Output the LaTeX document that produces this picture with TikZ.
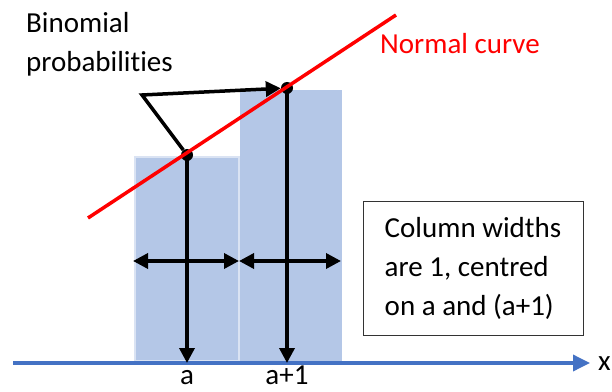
\documentclass[tikz,border=0pt]{standalone}
\usepackage{fontspec}
\setmainfont{Carlito}[Ligatures=NoCommon]
\definecolor{axisblue}{RGB}{68,114,196}
\definecolor{columnblue}{RGB}{180,199,231}
\definecolor{columnedge}{RGB}{218,227,243}
\usetikzlibrary{arrows.meta,positioning}

\begin{document}
\begin{tikzpicture}[
      x=1pt, y=1pt,
      font=\fontsize{29}{39}\selectfont,
      column/.style={fill=columnblue, anchor=south west, inner sep=0pt},
      dotmark/.style={circle, fill=black, inner sep=0pt, minimum size=12pt},
      pointer/.style={-{Triangle[length=15pt,width=15pt]}, line width=3.5pt},
      dimarrow/.style={{Triangle[length=15pt,width=15pt]}-{Triangle[length=15pt,width=15pt]}, line width=3.5pt},
      axisline/.style={-{Triangle[length=17pt,width=16pt]}, line width=3.5pt, axisblue}
    ]
    \useasboundingbox (0,0) rectangle (612,391);

    % columns
    \node[column, draw=columnedge, line width=2pt, minimum width=104pt, minimum height=204pt]
      (colA) at (134,29) {};
    \node[column, minimum width=102pt, minimum height=273pt] (colB) at (240,28) {};

    % x axis
    \coordinate (x0) at (13,28);
    \coordinate (x1) at (590,28);
    \draw[axisline] (x0) -- (x1);
    \node[anchor=base west, inner sep=0pt] (xlab) at (598,21) {x};
    \coordinate (ta) at (187,28);
    \coordinate (tb) at (287,28);
    \node[anchor=base, inner sep=0pt] (la) at (187,7) {a};
    \node[anchor=base, inner sep=0pt] (lb) at (287,7) {a+1};

    % binomial points
    \node[dotmark] (pa) at (187,236) {};
    \node[dotmark] (pb) at (287,303) {};
    \draw[pointer] (pa.center) -- (ta);
    \draw[pointer] (pb.center) -- (tb);

    % column widths
    \coordinate (wa) at (133,130);
    \coordinate (wm) at (239,130);
    \coordinate (wb) at (341,130);
    \draw[dimarrow] (wa) -- (wm);
    \draw[dimarrow] (wm) -- (wb);

    % label and its pointers
    \node[anchor=north west, inner sep=0pt, align=left] (binlab) at (26,379)
      {Binomial\\probabilities};
    \coordinate (corner) at (142,296);
    \draw[pointer, line join=miter] (pa) -- (corner) -- (pb);

    % normal curve
    \coordinate (n0) at (88,173);
    \coordinate (n1) at (396,376);
    \draw[red, line width=3.5pt] (n0) -- (n1);
    \node[anchor=base west, inner sep=0pt, text=red] (normlab) at (380,337) {Normal curve};

    \node[draw=black!80, line width=1pt, minimum width=220pt, minimum height=133pt,
      align=left, inner sep=0pt] (note) at (473,122.5)
      {Column widths\\are 1, centred\\on a and (a+1)};
  \end{tikzpicture}
\end{document}
